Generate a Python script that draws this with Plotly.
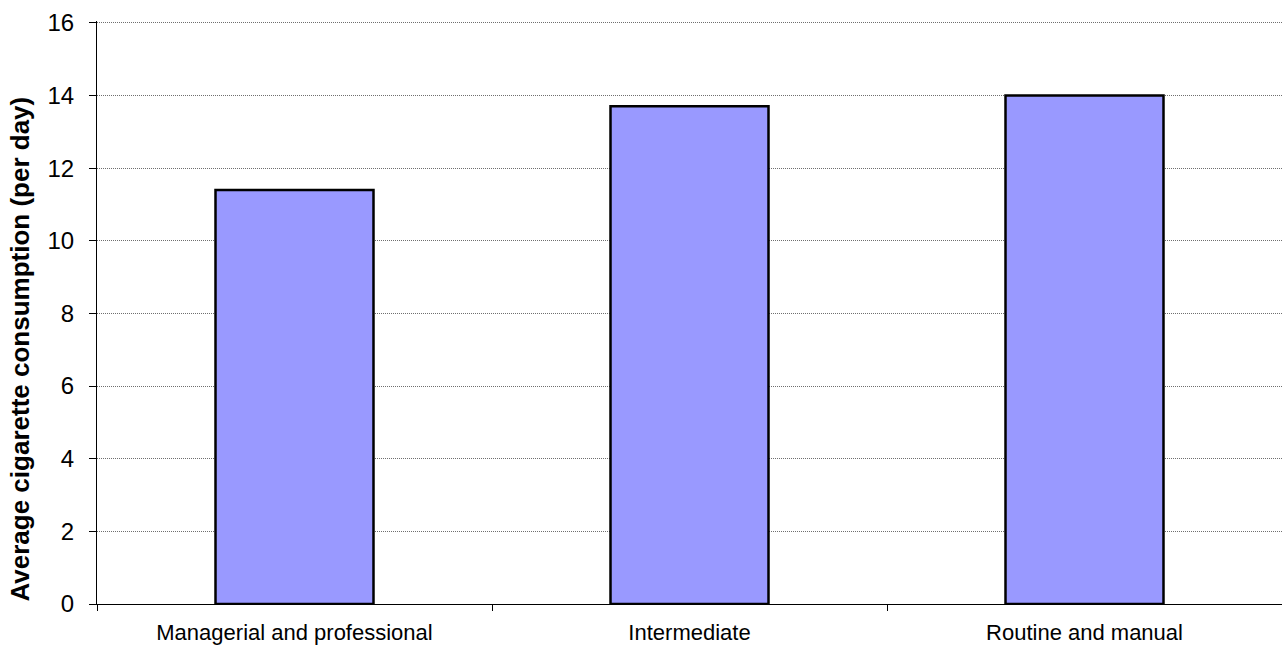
import plotly.graph_objects as go

categories = ["Managerial and professional", "Intermediate", "Routine and manual"]
consumption = [11.4, 13.7, 14.0]
y_ticks = [0, 2, 4, 6, 8, 10, 12, 14, 16]
y_title = "Average cigarette consumption (per day)"

fig = go.Figure(
    go.Bar(
        x=categories,
        y=consumption,
        width=0.4,
        marker=dict(color="#9999FF", line=dict(color="#000000", width=2.5)),
    )
)

fig.update_layout(
    width=1282,
    height=648,
    margin=dict(l=97, r=0, t=21, b=44),
    paper_bgcolor="white",
    plot_bgcolor="white",
    font=dict(family="Liberation Sans, Arial, sans-serif", size=22, color="#000000"),
    showlegend=False,
)

# Vertical axis title, placed as a rotated annotation left of the tick labels
fig.add_annotation(
    text=f"<b>{y_title}</b>",
    textangle=-90,
    xref="paper",
    yref="paper",
    x=0,
    y=0.5,
    xanchor="center",
    yanchor="middle",
    xshift=-78,
    yshift=-37,
    showarrow=False,
    font=dict(size=26),
)

fig.update_yaxes(
    range=[0, 16.05],
    tickvals=y_ticks,
    ticks="outside",
    ticklen=7,
    tickcolor="#000000",
    ticklabelstandoff=10,
    tickfont=dict(size=24),
    showline=True,
    linecolor="#000000",
    linewidth=1,
    showgrid=True,
    gridcolor="#6f6f6f",
    griddash="1px,1px",
    gridwidth=1,
    zeroline=False,
)

fig.update_xaxes(
    tickson="boundaries",
    ticks="outside",
    ticklen=6,
    tickcolor="#000000",
    ticklabelstandoff=9,
    showline=True,
    linecolor="#000000",
    linewidth=1,
    showgrid=False,
)

fig.write_html("out.html")
